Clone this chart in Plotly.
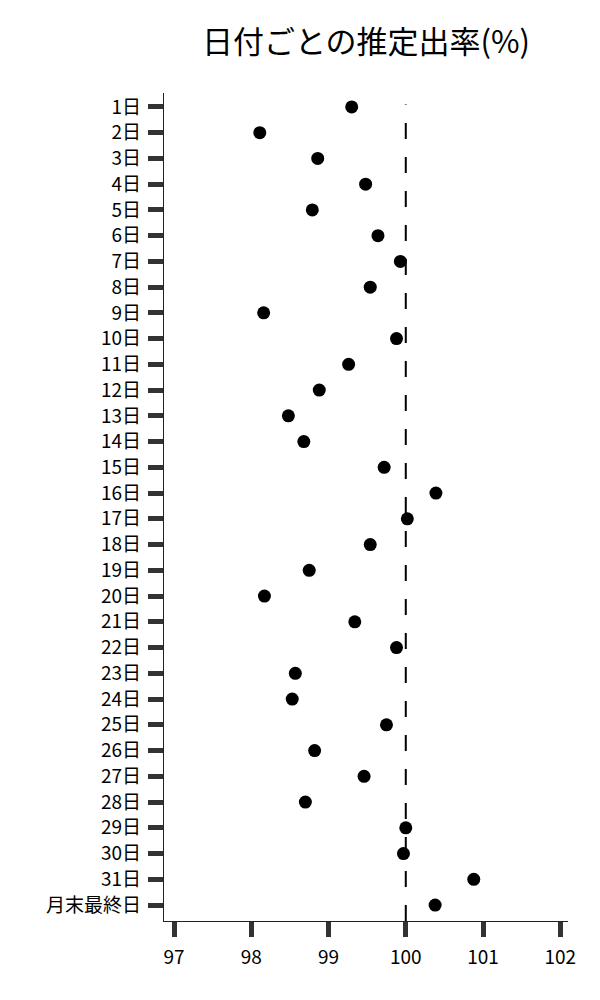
import plotly.graph_objects as go

# 日付ラベル
days = [f"{d}日" for d in range(1, 32)] + ["月末最終日"]

# 推定出率(%)
rates = [
    99.30, 98.11, 98.86, 99.48, 98.79, 99.64, 99.93, 99.54,
    98.16, 99.88, 99.26, 98.88, 98.48, 98.68, 99.72, 100.39,
    100.02, 99.54, 98.75, 98.17, 99.34, 99.88, 98.57, 98.53,
    99.75, 98.82, 99.46, 98.70, 100.00, 99.97, 100.88, 100.38,
]

x_ticks = [97, 98, 99, 100, 101, 102]
reference_rate = 100

font_name = "Noto Sans CJK JP, Noto Sans, sans-serif"

fig = go.Figure()
fig.add_trace(
    go.Scatter(
        x=rates,
        y=days,
        mode="markers",
        marker=dict(color="black", size=13),
        showlegend=False,
    )
)

# 100% の基準線
fig.add_shape(
    type="line",
    xref="x",
    yref="paper",
    x0=reference_rate,
    x1=reference_rate,
    y0=0,
    y1=0.986,
    line=dict(color="black", width=2, dash="16px,18px"),
    layer="below",
)

# ページの余白 8px 分を差し引いたサイズ
fig.update_layout(
    width=592,
    height=992,
    margin=dict(l=156, r=32, t=85, b=79),
    paper_bgcolor="white",
    plot_bgcolor="white",
    font=dict(family=font_name, size=19, color="black"),
    title=dict(
        text="日付ごとの推定出率(%)",
        font=dict(family=font_name, size=31, color="black"),
        xref="paper",
        x=0.5,
        xanchor="center",
        y=0.966,
        yanchor="middle",
    ),
)
fig.update_xaxes(
    range=[96.87, 102.1],
    tickvals=x_ticks,
    showgrid=False,
    zeroline=False,
    showline=True,
    linecolor="#222",
    linewidth=1.3,
    ticks="outside",
    ticklen=15,
    tickwidth=5,
    tickcolor="#333",
    ticklabelstandoff=4,
)
fig.update_yaxes(
    type="category",
    categoryorder="array",
    categoryarray=days,
    range=[31.62, -0.54],
    showgrid=False,
    zeroline=False,
    showline=True,
    linecolor="#222",
    linewidth=1.3,
    ticks="outside",
    ticklen=15,
    tickwidth=5,
    tickcolor="#333",
    ticklabelstandoff=3,
)

fig.write_html("out.html")
